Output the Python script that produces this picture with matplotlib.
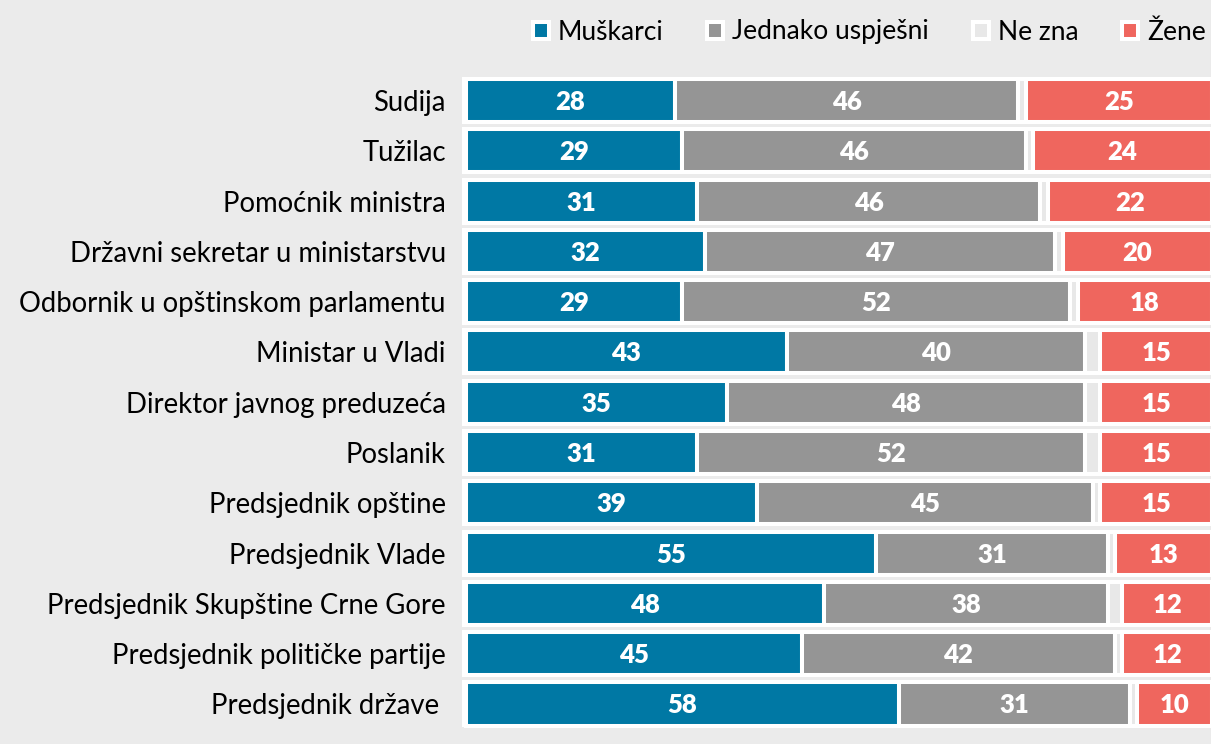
import numpy as np
import matplotlib.pyplot as plt

# Data (percent)
categories = ['Sudija', 'Tužilac', 'Pomoćnik ministra', 'Državni sekretar u ministarstvu',
              'Odbornik u opštinskom parlamentu', 'Ministar u Vladi', 'Direktor javnog preduzeća',
              'Poslanik', 'Predsjednik opštine', 'Predsjednik Vlade',
              'Predsjednik Skupštine Crne Gore', 'Predsjednik političke partije', 'Predsjednik države ']
muskarci = np.array([28, 29, 31, 32, 29, 43, 35, 31, 39, 55, 48, 45, 58])
jednako = np.array([46, 46, 46, 47, 52, 40, 48, 52, 45, 31, 38, 42, 31])
zene = np.array([25, 24, 22, 20, 18, 15, 15, 15, 15, 13, 12, 12, 10])
ne_zna = 100 - muskarci - jednako - zene

series = [('Muškarci', muskarci, '#0078a4', True),
          ('Jednako uspješni', jednako, '#959595', True),
          ('Ne zna', ne_zna, '#e8e8e8', False),
          ('Žene', zene, '#ef665e', True)]

bg = '#ebebeb'
plt.rcParams['font.family'] = ['Lato', 'DejaVu Sans']

W, H = 1211, 744
fig = plt.figure(figsize=(W / 100, H / 100), dpi=100, facecolor=bg)
top_px, pitch = 100.5, 50.29
ax_top = top_px - pitch / 2
ax_bot = ax_top + pitch * len(categories)
ax = fig.add_axes([466 / W, 1 - ax_bot / H, 746 / W, (ax_bot - ax_top) / H])
ax.set_facecolor(bg)

y = np.arange(len(categories))
# white row backing
ax.barh(y, 101, left=-0.55, height=0.935, color='white', linewidth=0, clip_on=False, zorder=1)

left = np.zeros(len(categories))
handles = []
for name, vals, col, show in series:
    b = ax.barh(y, vals, left=left, height=0.856, color=col, edgecolor='white',
                linewidth=2.9, label=name, zorder=2)
    for r in b:
        r.set_clip_on(False)
    handles.append(b)
    if show:
        for yi, v, l in zip(y, vals, left):
            ax.text(l + v / 2, yi + 0.03, str(v), ha='center', va='center', color='white',
                    fontsize=18.5, fontweight='heavy', zorder=3)
    left += vals

ax.set_xlim(0, 100)
ax.set_ylim(len(categories) - 0.5, -0.5)
ax.set_yticks(y)
ax.set_yticklabels(categories, fontsize=19.8)
ax.tick_params(axis='y', length=0, pad=14.5)
ax.set_xticks([])
for s in ax.spines.values():
    s.set_visible(False)

leg = ax.legend(handles=handles, ncol=4, loc='center left',
                bbox_to_anchor=(67 / 746, 1 + (ax_top - 32) / (ax_bot - ax_top)),
                frameon=False, fontsize=19, handlelength=0.6, handleheight=0.6,
                handletextpad=0.35, columnspacing=1.65, borderaxespad=0, borderpad=0)

fig.savefig('out.png', dpi=100, facecolor=bg)
